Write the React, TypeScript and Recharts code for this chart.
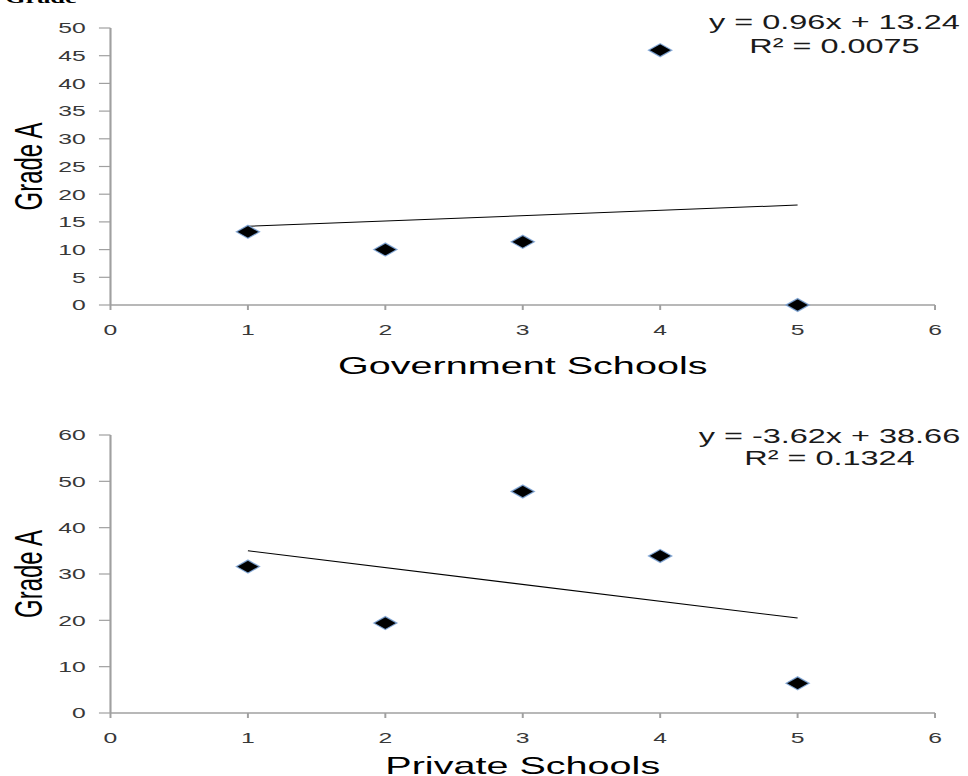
import React from 'react'
import { ScatterChart, Scatter, XAxis, YAxis } from 'recharts'

// ─── data ───────────────────────────────────────────────────────────────────
const schoolRank = [1, 2, 3, 4, 5]
const govGradeA = [13.2, 10.0, 11.4, 46, 0]
const privGradeA = [31.6, 19.4, 47.8, 33.9, 6.4]

// trend line end points (x = 1 and x = 5)
const trendX = [1, 5]
const govTrend = [14.2, 18.04]
const privTrend = [35.0, 20.5]

const xTicks = [0, 1, 2, 3, 4, 5, 6]
const govYTicks = [0, 5, 10, 15, 20, 25, 30, 35, 40, 45, 50]
const privYTicks = [0, 10, 20, 30, 40, 50, 60]

const govEquation = ['y = 0.96x + 13.24', 'R² = 0.0075']
const privEquation = ['y = -3.62x + 38.66', 'R² = 0.1324']

const toPoints = (xs: number[], ys: number[]) => xs.map((x, i) => ({ x, y: ys[i] }))

// the original screenshot is stretched sideways, so we draw narrow and scale
const W = 587
const K = 968 / W
const FONT = 'Liberation Sans, Arial, sans-serif'
const AXIS = '#a0a0a0'

const Diamond = (props: any) => {
  const { cx, cy } = props
  if (cx == null || cy == null) return <g />
  const w = 7
  const h = 6.5
  return (
    <polygon
      points={`${cx - w},${cy} ${cx},${cy - h} ${cx + w},${cy} ${cx},${cy + h}`}
      fill="#000"
      stroke="#7fa7d9"
      strokeWidth={1.1}
      strokeOpacity={0.85}
    />
  )
}

const NoDot = () => <g />

const YTitle = (props: any) => {
  const vb = props.viewBox || { x: 0, y: 0, width: 0, height: 0 }
  const x = 17
  const y = vb.y + vb.height / 2
  return (
    <text
      x={x}
      y={y}
      transform={`rotate(-90, ${x}, ${y})`}
      textAnchor="middle"
      dominantBaseline="central"
      fontSize={24}
      fontFamily={FONT}
      fill="#000"
    >
      Grade A
    </text>
  )
}

interface PanelProps {
  top: number
  height: number
  margin: { top: number; right: number; bottom: number; left: number }
  xAxisHeight: number
  titleOffset: number
  title: string
  values: number[]
  trend: number[]
  yMax: number
  yTicks: number[]
}

function Panel({ top, height, margin, xAxisHeight, titleOffset, title, values, trend, yMax, yTicks }: PanelProps) {
  const tick = { fontSize: 15, fill: '#383838', fontFamily: FONT }
  return (
    <div style={{ position: 'absolute', left: 0, top }}>
      <ScatterChart width={W} height={height} margin={margin}>
        <XAxis
          type="number"
          dataKey="x"
          domain={[0, 6]}
          ticks={xTicks}
          interval={0}
          height={xAxisHeight}
          tick={tick}
          tickSize={5}
          tickMargin={14}
          axisLine={{ stroke: AXIS, strokeWidth: 1.3 }}
          tickLine={{ stroke: AXIS, strokeWidth: 1.2 }}
          label={{
            value: title,
            position: 'insideBottom',
            offset: titleOffset,
            fontSize: 24,
            fill: '#000',
            fontFamily: FONT,
          }}
        />
        <YAxis
          type="number"
          dataKey="y"
          domain={[0, yMax]}
          ticks={yTicks}
          interval={0}
          width={67}
          tick={tick}
          tickSize={7}
          tickMargin={8}
          axisLine={{ stroke: AXIS, strokeWidth: 1.3 }}
          tickLine={{ stroke: AXIS, strokeWidth: 1.2 }}
          label={{ content: (p: any) => <YTitle {...p} /> }}
        />
        <Scatter
          data={toPoints(trendX, trend)}
          line={{ stroke: '#000', strokeWidth: 1 }}
          shape={NoDot}
          isAnimationActive={false}
        />
        <Scatter data={toPoints(schoolRank, values)} shape={Diamond} isAnimationActive={false} />
      </ScatterChart>
    </div>
  )
}

const Equation = ({ cx, y1, y2, lines }: { cx: number; y1: number; y2: number; lines: string[] }) => (
  <g transform={`translate(${cx} 0) scale(0.96 1)`} fontFamily={FONT} fontSize={20.5} fill="#1a1a1a">
    <text x={0} y={y1} textAnchor="middle">{lines[0]}</text>
    <text x={0} y={y2} textAnchor="middle">{lines[1]}</text>
  </g>
)

export default function App() {
  return (
    <div
      style={{
        position: 'absolute',
        left: 0,
        top: 0,
        width: W,
        height: 776,
        overflow: 'hidden',
        background: '#fff',
        transform: `scaleX(${K})`,
        transformOrigin: '0 0',
      }}
    >
      <Panel
        top={0}
        height={390}
        margin={{ top: 28, right: 20, bottom: 10, left: 0 }}
        xAxisHeight={75}
        titleOffset={6}
        title="Government Schools"
        values={govGradeA}
        trend={govTrend}
        yMax={50}
        yTicks={govYTicks}
      />
      <Panel
        top={390}
        height={386}
        margin={{ top: 45, right: 20, bottom: 0, left: 0 }}
        xAxisHeight={63}
        titleOffset={2}
        title="Private Schools"
        values={privGradeA}
        trend={privTrend}
        yMax={60}
        yTicks={privYTicks}
      />
      <svg
        width={W}
        height={776}
        style={{ position: 'absolute', left: 0, top: 0, pointerEvents: 'none' }}
      >
        <text x={3} y={3} fontFamily="Liberation Serif, Times New Roman, serif" fontWeight="bold" fontSize={16}>
          Grade
        </text>
        <Equation cx={506} y1={29} y2={53} lines={govEquation} />
        <Equation cx={503} y1={443} y2={465} lines={privEquation} />
      </svg>
    </div>
  )
}
